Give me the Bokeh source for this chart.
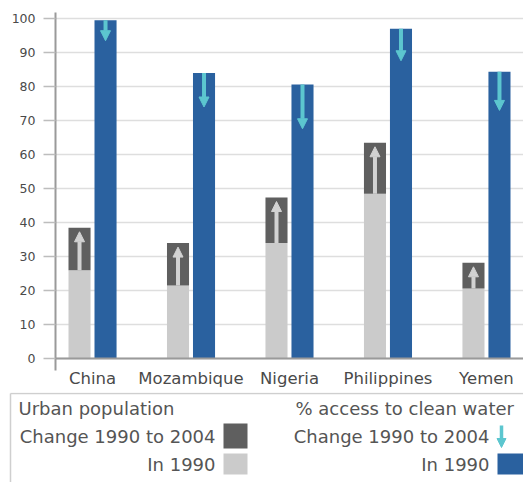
import numpy as np
from bokeh.plotting import figure
from bokeh.models import ColumnDataSource, Range1d, FixedTicker, Arrow, NormalHead, Span
from bokeh.core.properties import value
from bokeh.embed import file_html
from bokeh.resources import INLINE

# ---------------- data ----------------
countries = ["China", "Mozambique", "Nigeria", "Philippines", "Yemen"]
urban_1990 = [26.0, 21.5, 34.0, 48.5, 20.6]
urban_2004 = [38.5, 34.0, 47.4, 63.5, 28.2]
water_1990 = [99.5, 84.0, 80.6, 97.0, 84.4]
water_2004 = [93.5, 74.0, 67.6, 87.6, 73.0]
y_ticks = [0, 10, 20, 30, 40, 50, 60, 70, 80, 90, 100]

legend_left_title = "Urban population"
legend_right_title = "% access to clean water"
legend_change = "Change 1990 to 2004"
legend_base = "In 1990"

# ---------------- style ----------------
FONT = "DejaVu Sans"
TEXT = "#555555"
LIGHT = "#cbcbcb"
DARK = "#5f5f5f"
BLUE = "#2a619f"
CYAN = "#5cc6cf"
ARROW_GREY = "#d2d2d2"

x = np.arange(len(countries))
off = 0.132
bw = 0.224

src = ColumnDataSource(dict(
    xg=x - off,
    xb=x + off,
    u90=urban_1990,
    u04=urban_2004,
    w90=water_1990,
    w04=water_2004,
    utip=np.array(urban_2004) - 1.2,
))

p = figure(width=523, height=392,
           x_range=Range1d(-0.376, 4.376), y_range=Range1d(-3.5, 101.8),
           output_backend="svg", toolbar_location=None,
           min_border_left=55, min_border_right=0,
           min_border_top=12, min_border_bottom=22)
p.title.visible = False
p.outline_line_color = None
p.background_fill_color = "white"
p.xgrid.visible = False
p.ygrid.grid_line_color = "#dedede"
p.ygrid.grid_line_width = 1.5

p.yaxis.ticker = FixedTicker(ticks=y_ticks)
p.yaxis.axis_line_color = "#9a9a9a"
p.yaxis.axis_line_width = 2
p.yaxis.major_tick_out = 12
p.yaxis.major_tick_in = 0
p.yaxis.major_tick_line_color = "#bdbdbd"
p.yaxis.major_tick_line_width = 1.5
p.yaxis.minor_tick_line_color = None
p.yaxis.major_label_standoff = 8
p.yaxis.major_label_text_font = FONT
p.yaxis.major_label_text_font_size = "12.5px"
p.yaxis.major_label_text_color = "#4a4a4a"

p.xaxis.ticker = FixedTicker(ticks=list(x))
p.xaxis.major_label_overrides = {int(i): c for i, c in zip(x, countries)}
p.xaxis.axis_line_color = None
p.xaxis.major_tick_line_color = None
p.xaxis.minor_tick_line_color = None
p.xaxis.major_tick_out = 0
p.xaxis.major_tick_in = 0
p.xaxis.major_label_standoff = -2
p.xaxis.major_label_text_font = FONT
p.xaxis.major_label_text_font_size = "16.5px"
p.xaxis.major_label_text_color = "#4a4a4a"

p.add_layout(Span(location=0, dimension="width", line_color="#9a9a9a", line_width=2))

p.vbar(x="xg", width=bw, bottom=0, top="u90", source=src, fill_color=LIGHT, line_color=None)
p.vbar(x="xg", width=bw, bottom="u90", top="u04", source=src, fill_color=DARK, line_color=None)
p.vbar(x="xb", width=bw, bottom=0, top="w90", source=src, fill_color=BLUE, line_color=None)

p.add_layout(Arrow(end=NormalHead(size=10, fill_color=ARROW_GREY, line_color=ARROW_GREY),
                   x_start="xg", y_start="u90", x_end="xg", y_end="utip",
                   line_color=ARROW_GREY, line_width=4, source=src))
p.add_layout(Arrow(end=NormalHead(size=10, fill_color=CYAN, line_color=CYAN),
                   x_start="xb", y_start="w90", x_end="xb", y_end="w04",
                   line_color=CYAN, line_width=4, source=src))

# ---------------- legend panel ----------------
lg = figure(width=523, height=90, x_range=Range1d(0, 523), y_range=Range1d(90, 0),
            output_backend="svg", toolbar_location=None,
            min_border_left=0, min_border_right=0, min_border_top=0, min_border_bottom=0)
lg.title.visible = False
lg.axis.visible = False
lg.grid.visible = False
lg.outline_line_color = None

lg.segment(x0=[10, 10], y0=[1, 1], x1=[523, 10], y1=[1, 90], line_color="#cfcfcf", line_width=1.5)

LFS = "18px"
lg.text(x=[18, 295], y=[16, 16], text=[legend_left_title, legend_right_title],
        text_align="left", text_baseline="middle", text_font=value(FONT),
        text_font_size=LFS, text_color=TEXT)
lg.text(x=[215, 215, 489, 489], y=[44, 72, 44, 72],
        text=[legend_change, legend_base, legend_change, legend_base],
        text_align="right", text_baseline="middle", text_font=value(FONT),
        text_font_size=LFS, text_color=TEXT)
lg.quad(left=[223, 223, 497], right=[247, 247, 530], top=[31, 61, 61], bottom=[56, 82, 82],
        fill_color=[DARK, LIGHT, BLUE], line_color=None)
lg.add_layout(Arrow(end=NormalHead(size=9, fill_color=CYAN, line_color=CYAN),
                    x_start=501, y_start=33, x_end=501, y_end=55,
                    line_color=CYAN, line_width=3.5))

open("out.html", "w").write(file_html([p, lg], INLINE))
